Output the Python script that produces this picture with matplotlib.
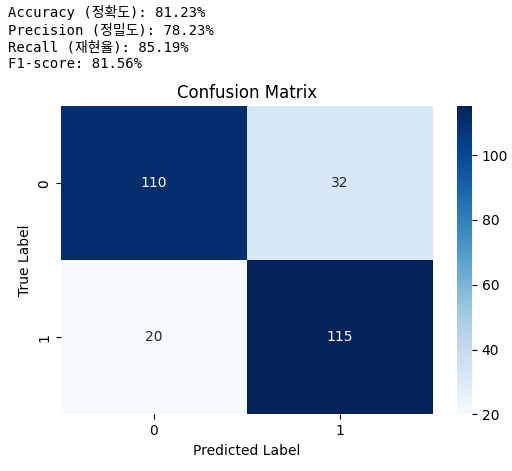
import numpy as np
import matplotlib.pyplot as plt
from matplotlib.colors import ListedColormap
import seaborn as sns

# confusion matrix values
labels = ['0', '1']
cm = np.array([[110, 32],
               [20, 115]])
accuracy = 81.23
precision = 78.23
recall = 85.19
f1 = 81.56

# Blues, slightly darkened to match the reference rendering
base = plt.get_cmap('Blues')(np.linspace(0, 1, 256))
base[:, :3] = base[:, :3] ** 1.2
cmap = ListedColormap(base)

fig = plt.figure(figsize=(5.12, 4.71), dpi=100)
ax = fig.add_axes([0.119, 0.120, 0.727, 0.654])
cax = fig.add_axes([0.893, 0.120, 0.0287, 0.654])

sns.heatmap(cm, annot=True, fmt='d', cmap=cmap, ax=ax, cbar_ax=cax,
            xticklabels=labels, yticklabels=labels)
ax.set_title('Confusion Matrix', fontsize=12)
ax.set_xlabel('Predicted Label')
ax.set_ylabel('True Label')

summary = (f"Accuracy (정확도): {accuracy:.2f}%\n"
           f"Precision (정밀도): {precision:.2f}%\n"
           f"Recall (재현율): {recall:.2f}%\n"
           f"F1-score: {f1:.2f}%")
fig.text(0.016, 0.989, summary, ha='left', va='top', fontsize=10,
         family=['DejaVu Sans Mono', 'Noto Sans CJK KR'], linespacing=1.27)

fig.savefig('out.png', dpi=100)
